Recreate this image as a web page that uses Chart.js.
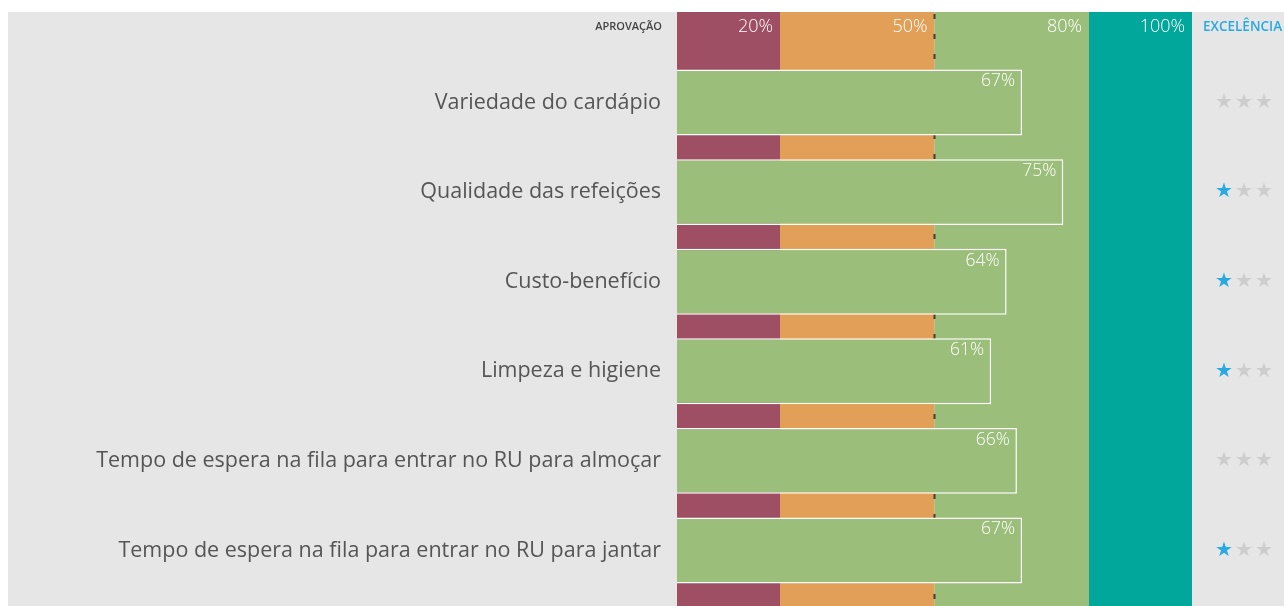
<!DOCTYPE html>
<html>
<head>
<meta charset="utf-8">
<script src="https://cdn.jsdelivr.net/npm/chart.js@4.4.0/dist/chart.umd.min.js"></script>
<style>
  html, body { margin: 0; padding: 0; background: #ffffff; overflow: hidden; }
  #wrap { position: absolute; left: 8px; top: 12px; width: 1276px; height: 594px; background: #e6e6e6; }
</style>
</head>
<body>
<div id="wrap"><canvas id="chart" width="1276" height="594"></canvas></div>
<script>
// --- dados ---
const categorias = [
  "Variedade do cardápio",
  "Qualidade das refeições",
  "Custo-benefício",
  "Limpeza e higiene",
  "Tempo de espera na fila para entrar no RU para almoçar",
  "Tempo de espera na fila para entrar no RU para jantar",
];
const valores = [67, 75, 64, 61, 66, 67];
const estrelas = [0, 1, 1, 1, 0, 1];

const faixasLimite = [20, 50, 80, 100];
const faixasRotulo = ["20%", "50%", "80%", "100%"];
const faixasCor = ["#9e4f63", "#e19f57", "#9bbf7b", "#00a79a"];
const linhaAprovacao = 50;

const FONTE = "'Open Sans', sans-serif";

// faixas de fundo + linha tracejada + cabeçalho
const faixasPlugin = {
  id: "faixas",
  beforeDatasetsDraw(chart) {
    const { ctx, scales: { x } } = chart;
    const h = chart.height;
    ctx.save();
    let inicio = 0;
    faixasLimite.forEach((fim, i) => {
      const x0 = x.getPixelForValue(inicio);
      const x1 = x.getPixelForValue(fim);
      ctx.fillStyle = faixasCor[i];
      ctx.fillRect(x0, 0, x1 - x0, h);
      inicio = fim;
    });
    // linha tracejada 50%
    const xl = Math.round(x.getPixelForValue(linhaAprovacao)) - 0.5;
    ctx.strokeStyle = "#4a3b2c";
    ctx.lineWidth = 2;
    ctx.setLineDash([5, 15]);
    ctx.beginPath();
    ctx.moveTo(xl, 2);
    ctx.lineTo(xl, h);
    ctx.stroke();
    ctx.setLineDash([]);

    // cabeçalho
    ctx.textBaseline = "middle";
    ctx.textAlign = "right";
    ctx.fillStyle = "#ffffff";
    ctx.font = "300 18px " + FONTE;
    faixasLimite.forEach((fim, i) => {
      ctx.fillText(faixasRotulo[i], x.getPixelForValue(fim) - 7, 15);
    });
    ctx.fillStyle = "#444444";
    ctx.font = "600 11px " + FONTE;
    ctx.fillText("APROVAÇÃO", x.left - 15, 15);
    ctx.textAlign = "left";
    ctx.fillStyle = "#29a9e1";
    ctx.font = "600 13.5px " + FONTE;
    ctx.fillText("EXCELÊNCIA", x.right + 11, 15);
    ctx.restore();
  },
  afterDatasetsDraw(chart) {
    const { ctx, scales: { x } } = chart;
    const meta = chart.getDatasetMeta(0);
    ctx.save();
    ctx.textBaseline = "top";
    ctx.textAlign = "right";
    ctx.font = "300 17.5px " + FONTE;
    ctx.fillStyle = "#ffffff";
    meta.data.forEach((bar, i) => {
      const topo = bar.y - bar.height / 2;
      ctx.fillText(valores[i] + "%", bar.x - 7, topo + 3);
    });
    // estrelas
    ctx.textBaseline = "middle";
    ctx.textAlign = "center";
    ctx.font = "20px 'DejaVu Sans', sans-serif";
    meta.data.forEach((bar, i) => {
      for (let k = 0; k < 3; k++) {
        ctx.fillStyle = k < estrelas[i] ? "#29a9e1" : "#cdcdcd";
        ctx.fillText("★", x.right + 32 + k * 20, bar.y);
      }
    });
    ctx.restore();
  },
};

new Chart(document.getElementById("chart"), {
  type: "bar",
  data: {
    labels: categorias,
    datasets: [{
      data: valores,
      backgroundColor: "#9bbf7b",
      borderColor: "#ffffff",
      borderWidth: 1.5,
      barPercentage: 0.735,
      categoryPercentage: 1,
    }],
  },
  options: {
    indexAxis: "y",
    responsive: false,
    animation: false,
    layout: { padding: { top: 45.7, bottom: 10.7, left: 0, right: 92 } },
    scales: {
      x: { min: 0, max: 100, display: false },
      y: {
        grid: { display: false, drawTicks: false },
        border: { display: false },
        ticks: { color: "#555555", font: { family: FONTE, size: 21.5 }, padding: 16 },
        afterFit(s) {
          s.width = 669;
          s.paddingTop = 0;
          s.paddingBottom = 0;
        },
      },
    },
    plugins: { legend: { display: false }, tooltip: { enabled: false } },
  },
  plugins: [faixasPlugin],
});
</script>
</body>
</html>
